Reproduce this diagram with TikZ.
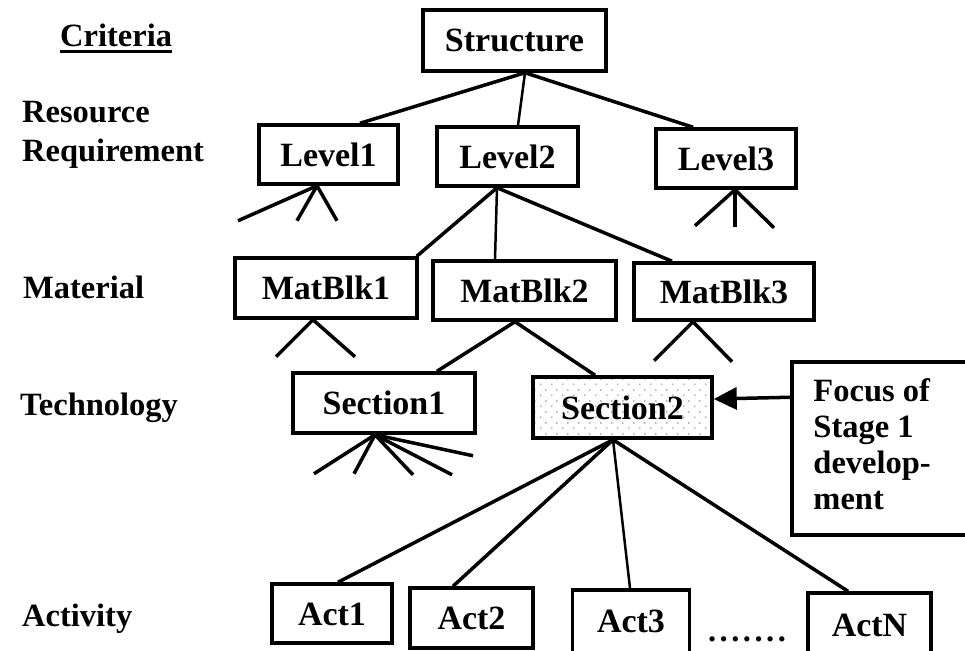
\documentclass[tikz,border=0pt]{standalone}
\usepackage{fontspec}
\setmainfont{Liberation Serif}
\usetikzlibrary{calc,arrows.meta,patterns.meta}

% sparse stipple used for the highlighted box
\tikzdeclarepattern{
  name=sparsedots,
  type=uncolored,
  bottom left={(0pt,0pt)},
  top right={(11pt,11pt)},
  tile size={(11pt,11pt)},
  code={
    \pgfpathcircle{\pgfpoint{2pt}{2pt}}{0.75pt}
    \pgfpathcircle{\pgfpoint{7.5pt}{7.5pt}}{0.75pt}
    \pgfusepath{fill}
  }
}

\begin{document}
\begin{tikzpicture}[x=1pt,y=-1pt,
  every node/.style={font=\fontsize{32.5}{36}\selectfont\bfseries},
  box/.style={draw,line width=3.5pt,inner sep=0pt,text height=23pt,text depth=0pt,
              minimum height=60pt,font=\fontsize{34}{36}\selectfont\bfseries},
  link/.style={line width=3.5pt},
  thinlink/.style={line width=2.5pt},
  crit/.style={anchor=base west,inner sep=0pt}]

\path[use as bounding box] (0,0) rectangle (965,650);

% criteria column
\node[crit] (criteria) at (60,47) {Criteria};
\draw[line width=3pt] ([yshift=-5pt]criteria.base west) -- ([yshift=-5pt]criteria.base east);
\node[anchor=north west,inner sep=0pt,align=left,
      font=\fontsize{32.5}{39}\selectfont\bfseries] (resreq) at (22,101) {Resource\\Requirement};
\node[crit] (material) at (23,298) {Material};
\node[crit] (technology) at (20,415) {Technology};
\node[crit] (activity) at (22,626) {Activity};

% hierarchy boxes
\node[box,minimum width=183pt,minimum height=61pt] (structure) at (514.5,40.5) {Structure};
\node[box,minimum width=139pt,minimum height=59pt] (level1) at (328.5,154.5) {Level1};
\node[box,minimum width=141pt,minimum height=59pt] (level2) at (507.5,156.5) {Level2};
\node[box,minimum width=140pt,minimum height=59pt] (level3) at (726,158.5) {Level3};
\node[box,minimum width=182pt] (mat1) at (326,288) {MatBlk1};
\node[box,minimum width=183pt,minimum height=59pt] (mat2) at (524.5,290.5) {MatBlk2};
\node[box,minimum width=180pt,minimum height=57pt] (mat3) at (724,291.5) {MatBlk3};
\node[box,minimum width=182pt] (sec1) at (384,403) {Section1};
\node[box,minimum width=179pt,minimum height=61pt,
      pattern={sparsedots},pattern color=black!65] (sec2) at (622.5,407.5) {Section2};
\node[box,minimum width=120pt,minimum height=59pt] (act1) at (332,613.5) {Act1};
\node[box,minimum width=123pt] (act2) at (471.5,618) {Act2};
% the last two boxes run past the lower edge
\node[box,minimum width=117pt,minimum height=74pt,text depth=12pt] (act3) at (631,627) {Act3};
\node[box,minimum width=123pt,minimum height=76pt,text depth=12pt] (actn) at (869.5,631) {ActN};
\node[anchor=base,inner sep=0pt] (dots) at (747,641)
  {.\kern3.5pt.\kern3.5pt.\kern3.5pt.\kern3.5pt.\kern3.5pt.\kern3.5pt.};

% annotation box, running past the right edge
\node[draw,line width=3.5pt,minimum width=220pt,minimum height=173pt,inner sep=0pt] (focus) at (902,448.5) {};
\node[anchor=north west,inner sep=0pt,align=left] (focustext)
  at ($(focus.north west)+(23,18)$) {Focus of\\Stage 1\\develop-\\ment};
\draw[link,-{Triangle[length=23pt 0,width=22pt 0]}]
  ($(focus.north west)+(0,37)$) -- ($(sec2.east)+(0,-8.5)$);

% Structure -> levels
\draw[link] ([xshift=10.5pt]structure.south) -- ([xshift=31.5pt]level1.north);
\draw[thinlink] ([xshift=10.5pt]structure.south) -- ([xshift=10.5pt]level2.north);
\draw[link] ([xshift=10.5pt]structure.south) -- ([xshift=-33pt]level3.north);

% Level2 -> material blocks
\draw[link] ([xshift=-10.5pt]level2.south) -- ([xshift=-2pt]mat1.north east);
\draw[thinlink] ([xshift=-10.5pt]level2.south) -- ([xshift=-29.5pt]mat2.north);
\draw[link] ([xshift=-10.5pt]level2.south) -- ([xshift=-52pt]mat3.north);

% MatBlk2 -> sections
\draw[link] ([xshift=-9.5pt]mat2.south) -- ([xshift=53pt]sec1.north);
\draw[link] ([xshift=-9.5pt]mat2.south) -- ([xshift=-27.5pt]sec2.north);

% Section2 -> activities
\draw[link] ([xshift=-9.5pt]sec2.south) -- ([xshift=6pt]act1.north);
\draw[link] ([xshift=-9.5pt]sec2.south) -- ([xshift=-18.5pt]act2.north);
\draw[thinlink] ([xshift=-9.5pt]sec2.south) -- ([xshift=-1pt]act3.north);
\draw[link] ([xshift=-9.5pt]sec2.south) -- ([xshift=-21.5pt]actn.north);

% unexpanded branches
\foreach \dx/\dy in {-79/35,-20/35,20/35}
  \draw[link] ([xshift=-11.5pt]level1.south) -- ++(\dx,\dy);
\foreach \dx/\dy in {-40/36,0/37,39/38}
  \draw[link] ([xshift=9pt]level3.south) -- ++(\dx,\dy);
\foreach \dx/\dy in {-37/37,42/37}
  \draw[link] ([xshift=-13pt]mat1.south) -- ++(\dx,\dy);
\foreach \dx/\dy in {-39/39,39/40}
  \draw[link] ([xshift=-31pt]mat3.south) -- ++(\dx,\dy);
\foreach \dx/\dy in {-61/39,-21/39,38/40,77/40,98/21}
  \draw[link] ([xshift=-9pt]sec1.south) -- ++(\dx,\dy);

\end{tikzpicture}
\end{document}
